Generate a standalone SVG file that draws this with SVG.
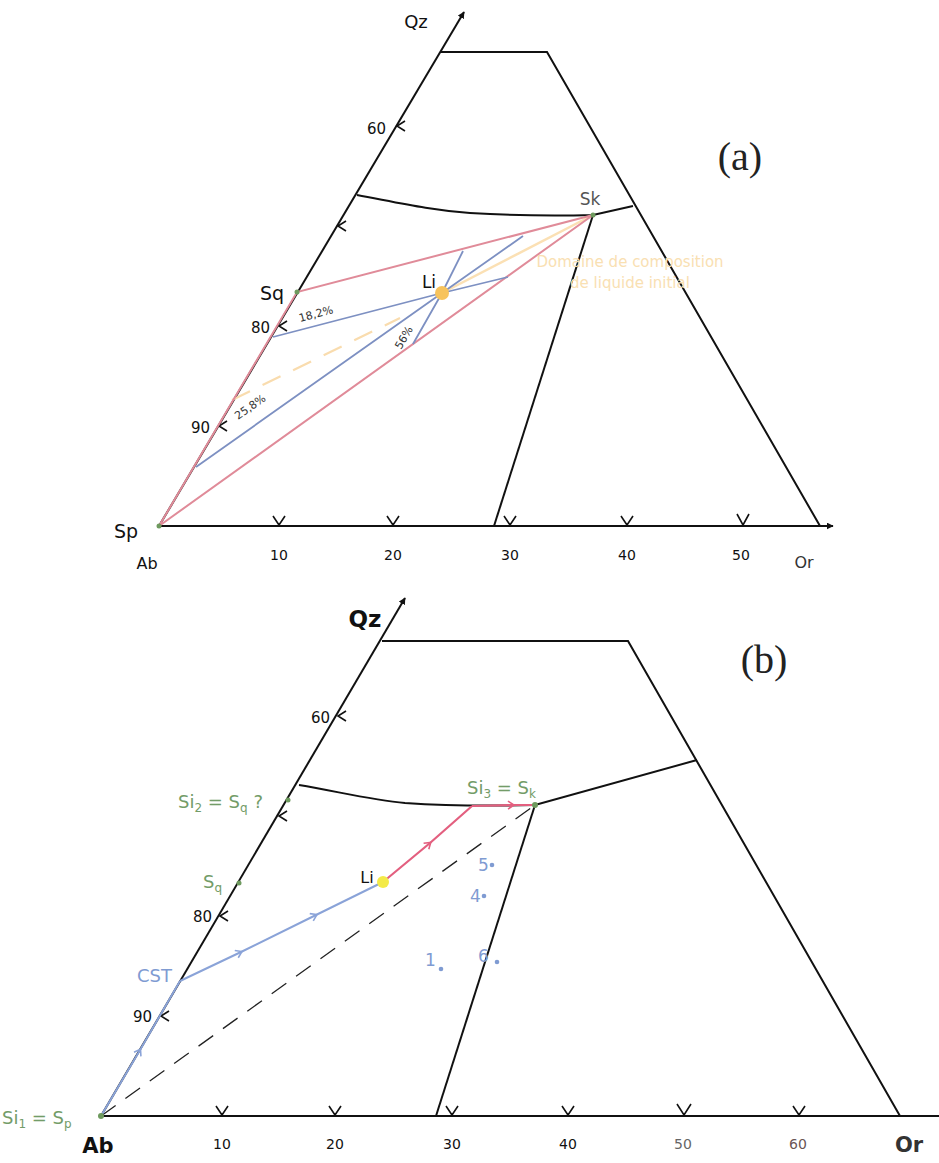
<svg xmlns="http://www.w3.org/2000/svg" width="939" height="1163" viewBox="0 0 939 1163">
<style>
.ax{fill:none;stroke:#111;stroke-width:2}
.tk{fill:none;stroke:#111;stroke-width:1.6}
.t{font-family:"DejaVu Sans",sans-serif}
.k{fill:#111}
.pinkA{fill:none;stroke:#e08b99;stroke-width:2}
.blueA{fill:none;stroke:#7d90c2;stroke-width:1.8}
.blueB{fill:none;stroke:#8aa3d8;stroke-width:2}
.pinkB{fill:none;stroke:#e35f7f;stroke-width:2.2}
.g{font-family:"DejaVu Sans",sans-serif;fill:#739c68}
.bl{font-family:"DejaVu Sans",sans-serif;fill:#7f9bd2}
.dot{fill:#6e9a5e}
</style>
<defs>
<marker id="arr" viewBox="0 0 10 10" refX="9" refY="5" markerWidth="7" markerHeight="7" markerUnits="userSpaceOnUse" orient="auto"><path d="M0,0 L10,5 L0,10 z" fill="#111"/></marker>
<marker id="chB" viewBox="0 0 10 10" refX="6" refY="5" markerWidth="10" markerHeight="10" markerUnits="userSpaceOnUse" orient="auto"><path d="M1,1 L7,5 L1,9" fill="none" stroke="#8aa3d8" stroke-width="1.6"/></marker>
<marker id="chP" viewBox="0 0 10 10" refX="6" refY="5" markerWidth="10" markerHeight="10" markerUnits="userSpaceOnUse" orient="auto"><path d="M1,1 L7,5 L1,9" fill="none" stroke="#e35f7f" stroke-width="1.6"/></marker>
</defs>

<!-- ============ PANEL A ============ -->
<g id="panelA-frame">
<path class="ax" d="M159,526 L833,526" marker-end="url(#arr)"/>
<path class="ax" d="M159,526 L464,12" marker-end="url(#arr)"/>
<path class="ax" d="M440,52 L547,52 L820,526"/>
<path class="ax" d="M357,195 C400,203 430,210 470,213 C520,216 560,216 593,215 L633,206"/>
<path class="ax" d="M593,215 L494,526"/>
</g>
<g id="panelA-ticks">
<path class="tk" d="M405,121 L397,126 L405,131 M346,221 L338,226 L346,231 M287,321 L279,326 L287,331 M227,421 L219,426 L227,431"/>
<path class="tk" d="M273,516 L279,525 L285,516 M387,516 L393,525 L399,516 M504,516 L510,525 L516,516 M621,516 L627,525 L633,516 M737,514 L743,525 L749,514"/>
<text class="t k" x="386" y="134" font-size="15" text-anchor="end">60</text>
<text class="t k" x="270" y="333" font-size="15" text-anchor="end">80</text>
<text class="t k" x="210" y="433" font-size="15" text-anchor="end">90</text>
<text class="t k" x="279" y="560" font-size="14" text-anchor="middle">10</text>
<text class="t k" x="393" y="560" font-size="14" text-anchor="middle">20</text>
<text class="t k" x="510" y="560" font-size="14" text-anchor="middle">30</text>
<text class="t k" x="627" y="560" font-size="14" text-anchor="middle">40</text>
<text class="t k" x="741" y="560" font-size="14" text-anchor="middle">50</text>
<text class="t" x="804" y="568" font-size="16" text-anchor="middle" fill="#333">Or</text>
<text class="t k" x="147" y="569" font-size="16" text-anchor="middle">Ab</text>
<text class="t k" x="416" y="28" font-size="18" text-anchor="middle">Qz</text>
<text x="740" y="170" font-family="Liberation Serif,serif" font-size="40" text-anchor="middle" fill="#222">(a)</text>
</g>
<g id="panelA-connectors">
<path d="M232,400 L400,318" fill="none" stroke="#f9dcae" stroke-width="2.2" stroke-dasharray="20 14"/>
<path d="M442,293 L593,215" fill="none" stroke="#fbe0b4" stroke-width="2.5"/>
<path class="pinkA" d="M159,526 L297,292 L593,215 L159,526"/>
<path class="blueA" d="M196,467 L442,293 M273,337 L442,293 M442,293 L413,344 M442,293 L463,251 M442,293 L523,236 M442,293 L508,277"/>
<text class="t" font-size="11" fill="#333" transform="translate(300,322) rotate(-15)">18,2%</text>
<text class="t" font-size="11" fill="#333" transform="translate(238,420) rotate(-35)">25,8%</text>
<text class="t" font-size="11" fill="#333" transform="translate(401,350) rotate(-60)">56%</text>
</g>
<g id="node-Sp-a"><circle class="dot" cx="159" cy="526" r="2.5"/><text class="t k" x="126" y="538" font-size="19" text-anchor="middle">Sp</text></g>
<g id="node-Sq-a"><circle class="dot" cx="297" cy="292" r="2.5"/><text class="t k" x="272" y="300" font-size="19" text-anchor="middle">Sq</text></g>
<g id="node-Sk-a"><circle class="dot" cx="593" cy="215" r="2.5"/><text class="t" x="590" y="205" font-size="17" text-anchor="middle" fill="#555">Sk</text></g>
<g id="node-Li-a"><circle cx="442" cy="293" r="7" fill="#f7c35c"/><text class="t k" x="429" y="288" font-size="17" text-anchor="middle">Li</text></g>
<g id="label-domaine"><text class="t" font-size="15" fill="#f9e0b2" text-anchor="middle"><tspan x="630" y="267">Domaine de composition</tspan><tspan x="630" y="288">de liquide initial</tspan></text></g>

<!-- ============ PANEL B ============ -->
<g id="panelB-frame">
<path class="ax" d="M101,1116 L939,1116"/>
<path class="ax" d="M101,1116 L405,598" marker-end="url(#arr)"/>
<path class="ax" d="M382,641 L628,641 L900,1116"/>
<path class="ax" d="M299,785 C340,792 372,800 405,803 C450,806 495,806 535,805 L697,760"/>
<path class="ax" d="M535,805 L436,1116"/>
</g>
<g id="panelB-ticks">
<path class="tk" d="M346,711 L338,716 L346,721 M287,811 L279,816 L287,821 M228,911 L220,916 L228,921 M169,1011 L161,1016 L169,1021"/>
<path class="tk" d="M216,1106 L222,1115 L228,1106 M329,1106 L335,1115 L341,1106 M446,1106 L452,1115 L458,1106 M562,1106 L568,1115 L574,1106 M677,1104 L684,1115 L691,1104 M793,1106 L799,1115 L805,1106"/>
<text class="t k" x="330" y="723" font-size="15" text-anchor="end">60</text>
<text class="t k" x="212" y="922" font-size="15" text-anchor="end">80</text>
<text class="t k" x="152" y="1022" font-size="15" text-anchor="end">90</text>
<text class="t k" x="222" y="1149" font-size="14" text-anchor="middle">10</text>
<text class="t k" x="335" y="1149" font-size="14" text-anchor="middle">20</text>
<text class="t k" x="452" y="1149" font-size="14" text-anchor="middle">30</text>
<text class="t k" x="568" y="1149" font-size="14" text-anchor="middle">40</text>
<text class="t" x="683" y="1149" font-size="14" text-anchor="middle" fill="#666">50</text>
<text class="t" x="798" y="1149" font-size="14" text-anchor="middle" fill="#6a5555">60</text>
<text class="t" x="909" y="1152" font-size="21" font-weight="bold" text-anchor="middle" fill="#333">Or</text>
<text class="t k" x="98" y="1153" font-size="21" font-weight="bold" text-anchor="middle">Ab</text>
<text class="t k" x="365" y="627" font-size="23" font-weight="bold" text-anchor="middle">Qz</text>
<text x="764" y="673" font-family="Liberation Serif,serif" font-size="40" text-anchor="middle" fill="#222">(b)</text>
</g>
<g id="panelB-connectors">
<path d="M101,1116 L535,805" fill="none" stroke="#222" stroke-width="1.3" stroke-dasharray="18 12"/>
<path class="blueB" d="M101,1116 L140,1050 L180,981" marker-mid="url(#chB)"/>
<path class="blueB" d="M180,981 L241,952 L316,915 L383,882" marker-mid="url(#chB)"/>
<path class="pinkB" d="M383,882 L430,843 L472,806" marker-mid="url(#chP)"/>
<path class="pinkB" d="M472,806 L513,805 L535,805" marker-mid="url(#chP)"/>
</g>
<g id="node-Si1"><circle class="dot" cx="101" cy="1116" r="3"/><text class="g" x="2" y="1124" font-size="18">Si<tspan font-size="12" dy="4">1</tspan><tspan dy="-4"> = S</tspan><tspan font-size="12" dy="4">p</tspan></text></g>
<g id="node-Si2"><circle class="dot" cx="288" cy="800" r="2.5"/><text class="g" x="178" y="808" font-size="18">Si<tspan font-size="12" dy="4">2</tspan><tspan dy="-4"> = S</tspan><tspan font-size="12" dy="4">q</tspan><tspan dy="-4"> ?</tspan></text></g>
<g id="node-Sq-b"><circle class="dot" cx="239" cy="883" r="2.5"/><text class="g" x="203" y="888" font-size="18">S<tspan font-size="12" dy="4">q</tspan></text></g>
<g id="node-CST"><text class="bl" x="137" y="982" font-size="18">CST</text></g>
<g id="node-Li-b"><circle cx="383" cy="882" r="6" fill="#f3ea48"/><text class="t k" x="367" y="883" font-size="16" text-anchor="middle">Li</text></g>
<g id="node-Si3"><circle class="dot" cx="535" cy="805" r="3"/><text class="g" x="467" y="794" font-size="18">Si<tspan font-size="12" dy="4">3</tspan><tspan dy="-4"> = S</tspan><tspan font-size="12" dy="4">k</tspan></text></g>
<g id="node-5"><text class="bl" x="478" y="871" font-size="17">5</text><circle cx="492" cy="865" r="2.3" fill="#7f9bd2"/></g>
<g id="node-4"><text class="bl" x="470" y="902" font-size="17">4</text><circle cx="484" cy="896" r="2.3" fill="#7f9bd2"/></g>
<g id="node-6"><text class="bl" x="478" y="962" font-size="17">6</text><circle cx="497" cy="962" r="2.3" fill="#7f9bd2"/></g>
<g id="node-1"><text class="bl" x="425" y="966" font-size="17">1</text><circle cx="441" cy="969" r="2.3" fill="#7f9bd2"/></g>
</svg>
